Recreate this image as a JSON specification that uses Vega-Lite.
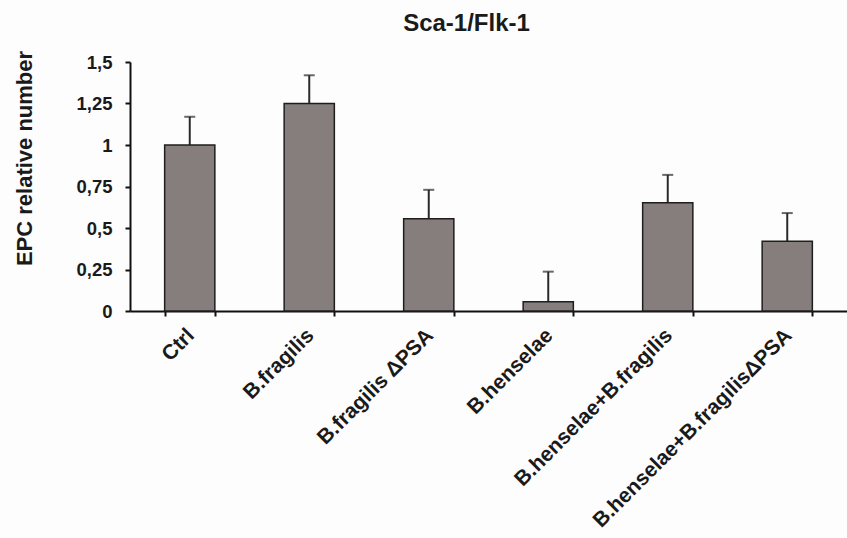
{
  "$schema": "https://vega.github.io/schema/vega-lite/v6.json",
  "width": 717,
  "height": 249,
  "autosize": {"type": "none"},
  "padding": {"left": 130, "top": 62, "right": 0, "bottom": 227},
  "background": "#fdfdfe",
  "title": {
    "text": "Sca-1/Flk-1",
    "font": "Liberation Sans",
    "fontWeight": "bold",
    "fontSize": 24,
    "color": "#1a1a1a",
    "anchor": "middle",
    "frame": "group",
    "dx": -22,
    "offset": 14
  },
  "data": {
    "values": [
      {"group": "Ctrl", "value": 1.0, "upper": 1.17},
      {"group": "B.fragilis", "value": 1.25, "upper": 1.42},
      {"group": "B.fragilis ΔPSA", "value": 0.555, "upper": 0.73},
      {"group": "B.henselae", "value": 0.056, "upper": 0.237},
      {"group": "B.henselae+B.fragilis", "value": 0.652, "upper": 0.82},
      {"group": "B.henselae+B.fragilisΔPSA", "value": 0.42, "upper": 0.59}
    ]
  },
  "config": {
    "view": {"stroke": null},
    "axis": {
      "labelFont": "Liberation Sans",
      "labelFontWeight": "bold",
      "labelColor": "#1a1a1a",
      "titleFont": "Liberation Sans",
      "titleFontWeight": "bold",
      "titleColor": "#1a1a1a",
      "domainColor": "#111",
      "domainWidth": 2,
      "tickColor": "#111",
      "tickWidth": 2,
      "labelLimit": 0,
      "grid": false
    }
  },
  "encoding": {
    "x": {
      "field": "group",
      "type": "nominal",
      "sort": null,
      "scale": {"paddingInner": 0.58, "paddingOuter": 0.29},
      "axis": {
        "title": null,
        "labelAngle": -45,
        "labelAlign": "right",
        "labelBaseline": "middle",
        "labelFontSize": 21,
        "labelPadding": 16,
        "labelOffset": 1,
        "tickBand": "extent",
        "tickSize": 5
      }
    }
  },
  "layer": [
    {
      "mark": {"type": "rule", "color": "#2a2a2a", "strokeWidth": 2},
      "encoding": {
        "y": {"field": "value", "type": "quantitative"},
        "y2": {"field": "upper"}
      }
    },
    {
      "mark": {"type": "tick", "color": "#2a2a2a", "size": 11, "thickness": 2, "orient": "horizontal"},
      "encoding": {
        "y": {"field": "upper", "type": "quantitative"}
      }
    },
    {
      "mark": {"type": "bar", "fill": "#857e7c", "stroke": "#1e1e1e", "strokeWidth": 1.5},
      "encoding": {
        "y": {
          "field": "value",
          "type": "quantitative",
          "scale": {"domain": [0, 1.5], "nice": false},
          "axis": {
            "title": "EPC relative number",
            "titleFontSize": 22,
            "titleAnchor": "middle",
            "titleAngle": -90,
            "titleBaseline": "middle",
            "titleX": -106,
            "titleY": 96,
            "values": [0, 0.25, 0.5, 0.75, 1, 1.25, 1.5],
            "labelExpr": "replace(toString(datum.value), '.', ',')",
            "labelFontSize": 18.5,
            "labelPadding": 13,
            "tickSize": 5
          }
        }
      }
    }
  ]
}
